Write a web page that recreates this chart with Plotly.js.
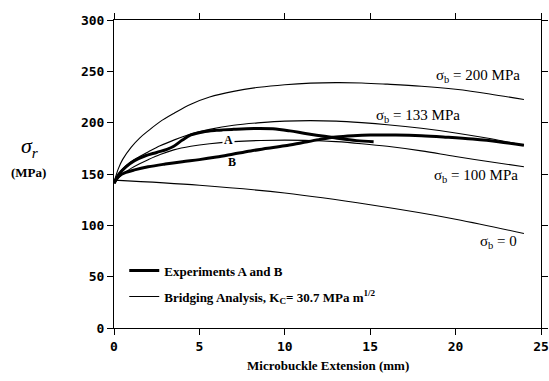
<!DOCTYPE html>
<html>
<head>
<meta charset="utf-8">
<script src="https://cdn.plot.ly/plotly-3.0.1.min.js"></script>
<style>html,body{margin:0;padding:0;background:#fff;}#chart{width:549px;height:381px;}</style>
</head>
<body>
<div id="chart"></div>
<script>
// Bridging analysis curves (x in mm, y in MPa)
const x200 = [0, 0.25, 0.5, 1, 1.5, 2, 2.7, 3.5, 4.5, 5.6, 7, 8.5, 10, 11.5, 13, 14.5, 16, 18, 20, 22, 24];
const y200 = [142, 155, 164, 176, 185, 192, 201, 209, 218, 225, 230.5, 234.5, 237, 238.5, 239, 238.7, 237.5, 235.5, 232.5, 228, 222.5];
const x133 = [0, 0.25, 0.5, 1, 1.5, 2, 2.7, 3.5, 4.5, 5.6, 7, 8.6, 10, 11.5, 13, 14.5, 16, 18, 20, 22, 24];
const y133 = [142, 149, 155, 162, 167, 171.5, 177.5, 183, 189, 193.5, 197.5, 200, 201.5, 202, 201.5, 200, 198, 194.5, 190, 184.5, 178];
const x100 = [0, 0.25, 0.5, 1, 1.5, 2, 2.7, 3.5, 4.5, 5.6, 7, 8.6, 10, 11.5, 13, 14.5, 16, 18, 20, 22, 24];
const y100 = [142, 146, 150, 155.5, 160, 164, 169, 173.5, 177, 179.5, 181.5, 182.7, 183, 182.7, 181.5, 179.5, 177, 172.5, 167, 162, 157];
const x0 = [0, 5, 10, 15, 20, 24];
const y0 = [144, 139, 131.5, 120, 106, 92];
// Experiments
const xA = [0, 0.3, 0.7, 1.2, 1.8, 2.5, 3.1, 3.5, 4, 4.5, 5.2, 6, 7, 8.2, 9.3, 10.3, 11.2, 12.2, 13.2, 14.2, 15.2];
const yA = [141, 150, 157, 163, 167.5, 171, 174, 177, 183, 188, 191, 192.5, 193.5, 194.3, 194, 192, 189.5, 187, 184.5, 182.5, 181.5];
const xB = [0, 0.3, 0.7, 1.2, 2, 3, 4, 5, 6, 7, 8, 9, 10, 11, 12, 13, 14, 15, 16.5, 18, 19.5, 21, 22.5, 24];
const yB = [141, 148, 151.5, 154, 157, 159.7, 162, 164, 166.5, 169.5, 172.5, 175, 177.5, 180.5, 183.5, 186, 187.3, 188, 188, 187.3, 185.8, 184, 181.5, 178];
// Tick labels
const xTicks = [0, 5, 10, 15, 20, 25];
const yTicks = [0, 50, 100, 150, 200, 250, 300];
// Curve labels
const curveLabels = ["σ<sub>b</sub> = 200 MPa", "σ<sub>b</sub> = 133 MPa", "σ<sub>b</sub> = 100 MPa", "σ<sub>b</sub> = 0"];
const labelX = [23.9, 20.4, 23.75, 23.7];
const labelY = [245, 206.5, 148, 84];
const legendNames = ["Experiments A and B", "Bridging Analysis, K<sub>C</sub>= 30.7 MPa m<sup>1/2</sup>"];

const thin = {color: '#000', width: 1.1, shape: 'spline', smoothing: 1};
const thick = {color: '#000', width: 3, shape: 'spline', smoothing: 1};

const traces = [
  {x: xA, y: yA, mode: 'lines', line: thick, name: legendNames[0], legendgroup: 'g1', showlegend: true},
  {x: xB, y: yB, mode: 'lines', line: thick, showlegend: false, legendgroup: 'g1'},
  {x: x200, y: y200, mode: 'lines', line: thin, name: legendNames[1], legendgroup: 'g2', showlegend: true},
  {x: x133, y: y133, mode: 'lines', line: thin, showlegend: false, legendgroup: 'g2'},
  {x: x100, y: y100, mode: 'lines', line: thin, showlegend: false, legendgroup: 'g2'},
  {x: x0, y: y0, mode: 'lines', line: thin, showlegend: false, legendgroup: 'g2'}
];

const serif = '"Liberation Serif", "DejaVu Serif", Times, serif';
const tickFont = {family: '"DejaVu Sans Mono", "Liberation Mono", monospace', size: 13, color: '#000', weight: 'bold'};

const annotations = curveLabels.map((t, i) => ({
  x: labelX[i], y: labelY[i], xref: 'x', yref: 'y', text: t, showarrow: false,
  xanchor: 'right', yanchor: 'middle', font: {family: serif, size: 15, color: '#000'}
}));
annotations.push(
  {x: 6.7, y: 183.5, xref: 'x', yref: 'y', text: '<b>A</b>', showarrow: false, bgcolor: '#fff',
   font: {family: serif, size: 12, color: '#000'}, borderpad: 1},
  {x: 6.9, y: 161.5, xref: 'x', yref: 'y', text: '<b>B</b>', showarrow: false,
   font: {family: serif, size: 12, color: '#000'}},
  {x: -0.197, y: 0.588, xref: 'paper', yref: 'paper', text: '<i>σ<sub>r</sub></i>', showarrow: false,
   xanchor: 'center', yanchor: 'middle', font: {family: serif, size: 22, color: '#000'}},
  {x: -0.20, y: 0.505, xref: 'paper', yref: 'paper', text: '<b>(MPa)</b>', showarrow: false,
   xanchor: 'center', yanchor: 'middle', font: {family: serif, size: 13, color: '#000'}},
  {x: 0.5, y: -0.123, xref: 'paper', yref: 'paper', text: '<b>Microbuckle Extension (mm)</b>', showarrow: false,
   xanchor: 'center', yanchor: 'middle', font: {family: serif, size: 13, color: '#000'}}
);

const layout = {
  width: 549, height: 381,
  margin: {l: 114, r: 8, t: 20, b: 53},
  paper_bgcolor: '#fff', plot_bgcolor: '#fff',
  font: {family: serif},
  showlegend: true,
  legend: {x: 0.024, y: 0.235, xanchor: 'left', yanchor: 'top', bgcolor: 'rgba(0,0,0,0)',
           font: {family: serif, size: 13, color: '#000', weight: 'bold'}, tracegroupgap: 6, itemwidth: 30},
  xaxis: {range: [0, 25], tickvals: xTicks, ticktext: xTicks.map(String), showgrid: false, zeroline: false,
          showline: true, linecolor: '#000', linewidth: 1, mirror: 'ticks', ticks: 'outside', ticklen: 6,
          tickcolor: '#000', tickfont: tickFont, fixedrange: true},
  yaxis: {range: [0, 300], tickvals: yTicks, ticktext: yTicks.map(String), showgrid: false, zeroline: false,
          showline: true, linecolor: '#000', linewidth: 1, mirror: 'ticks', ticks: 'outside', ticklen: 6,
          tickcolor: '#000', tickfont: tickFont, fixedrange: true},
  annotations: annotations
};

Plotly.newPlot('chart', traces, layout, {displayModeBar: false, staticPlot: true});
</script>
</body>
</html>
